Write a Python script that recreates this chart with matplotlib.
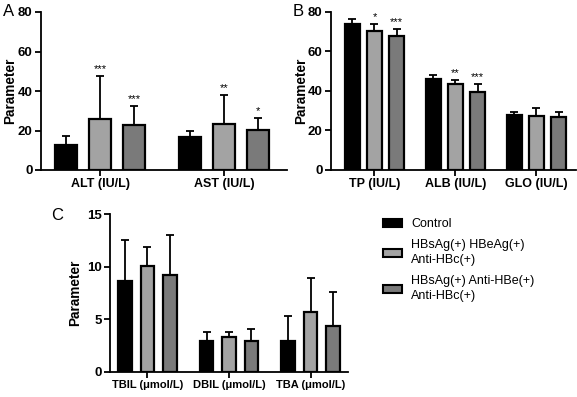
import matplotlib
matplotlib.use("Agg")
import matplotlib.pyplot as plt
import numpy as np
from matplotlib.patches import Patch

plt.rcParams['font.family'] = ['Liberation Sans', 'DejaVu Sans']

groups = ["Control", "HBsAg(+) HBeAg(+)\nAnti-HBc(+)", "HBsAg(+) Anti-HBe(+)\nAnti-HBc(+)"]
colors = ["#000000", "#a3a3a3", "#7a7a7a"]

# Panel A
a_cats = ["ALT (IU/L)", "AST (IU/L)"]
a_mean = [[12.8, 16.8], [25.8, 23.2], [22.6, 20.3]]
a_err = [[4.3, 2.8], [21.9, 14.8], [9.8, 5.8]]
a_stars = [["", ""], ["***", "**"], ["***", "*"]]

# Panel B
b_cats = ["TP (IU/L)", "ALB (IU/L)", "GLO (IU/L)"]
b_mean = [[74.0, 46.2, 28.0], [70.0, 43.3, 27.2], [67.5, 39.6, 26.9]]
b_err = [[2.5, 1.9, 1.2], [3.6, 2.1, 4.0], [3.7, 3.8, 2.6]]
b_stars = [["", "", ""], ["*", "**", ""], ["***", "***", ""]]

# Panel C
c_cats = ["TBIL (μmol/L)", "DBIL (μmol/L)", "TBA (μmol/L)"]
c_mean = [[8.65, 2.95, 2.95], [10.1, 3.33, 5.65], [9.2, 2.95, 4.38]]
c_err = [[3.9, 0.88, 2.4], [1.77, 0.45, 3.28], [3.85, 1.15, 3.2]]

W, H = 577, 397
fig = plt.figure(figsize=(W / 100, H / 100), dpi=100)


def add_ax(l, r, t, b):
    return fig.add_axes([l / W, 1 - b / H, (r - l) / W, (b - t) / H])


def draw(ax, cats, means, errs, stars, spacing, width, xlim, ylim, yticks, star_fs=8):
    x = np.arange(len(cats))
    for i in range(3):
        pos = x + (i - 1) * spacing
        ax.bar(pos, means[i], width=width, color=colors[i], edgecolor="black",
               linewidth=1.6, zorder=3)
        ax.errorbar(pos, means[i], yerr=[np.zeros(len(cats)), errs[i]], fmt="none",
                    ecolor="black", elinewidth=1.3, capsize=3, capthick=1.3, zorder=2)
        if stars is not None:
            for j, s in enumerate(stars[i]):
                if s:
                    ax.text(pos[j], means[i][j] + errs[i][j] + (ylim[1] - ylim[0]) * 0.012, s,
                            ha="center", va="bottom", fontsize=star_fs)
    ax.set_xlim(*xlim)
    ax.set_ylim(*ylim)
    ax.set_xticks(x)
    ax.set_xticklabels(cats, fontweight="bold", fontsize=9)
    ax.set_yticks(yticks)
    ax.set_yticklabels([str(t) for t in yticks], fontweight="bold", fontsize=9.5)
    for s in ["top", "right"]:
        ax.spines[s].set_visible(False)
    for s in ["left", "bottom"]:
        ax.spines[s].set_linewidth(1.3)
    ax.tick_params(width=1.3, length=4, pad=2)
    ax.set_ylabel("Parameter", fontweight="bold", fontsize=9.8)


axA = add_ax(41, 287, 12, 170)
draw(axA, a_cats, a_mean, a_err, a_stars, 0.274, 0.175, (-0.476, 1.508), (0, 80), [0, 20, 40, 60, 80])
axA.yaxis.set_label_coords(-0.097, 0.5)

axB = add_ax(331, 576, 11.7, 170)
draw(axB, b_cats, b_mean, b_err, b_stars, 0.272, 0.18, (-0.537, 2.488), (0, 80), [0, 20, 40, 60, 80])
axB.yaxis.set_label_coords(-0.094, 0.5)

axC = add_ax(110, 348, 214.3, 371.7)
draw(axC, c_cats, c_mean, c_err, None, 0.276, 0.17, (-0.46, 2.46), (0, 15), [0, 5, 10, 15])
axC.set_xticklabels(c_cats, fontweight="bold", fontsize=8)
axC.yaxis.set_label_coords(-0.118, 0.5)

fig.text(3 / W, 1 - 12 / H, "A", fontsize=12, va="center", ha="left")
fig.text(293 / W, 1 - 12 / H, "B", fontsize=12, va="center", ha="left")
fig.text(51 / W, 1 - 215 / H, "C", fontsize=12, va="center", ha="left")

handles = [Patch(facecolor=colors[i], edgecolor="black", linewidth=1.5) for i in range(3)]
leg = fig.legend(handles, groups, loc="upper left", bbox_to_anchor=(383 / W, 1 - 218 / H),
                 frameon=False, fontsize=9, handlelength=1.5, handleheight=0.6,
                 labelspacing=0.75, handletextpad=0.75, borderpad=0, borderaxespad=0)
for t in leg.get_texts():
    t.set_linespacing(1.3)

fig.savefig("out.png", dpi=100)
